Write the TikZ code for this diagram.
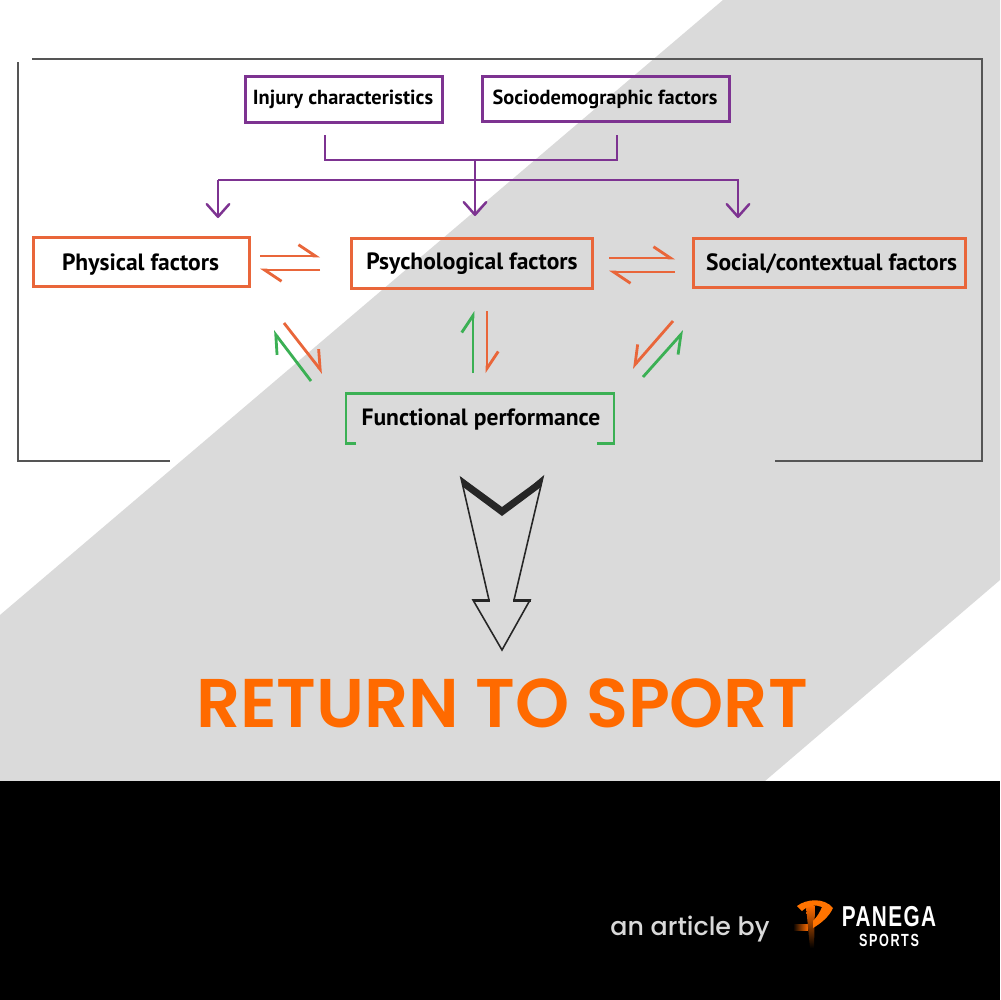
\documentclass[tikz,border=0pt]{standalone}
\usepackage{fontspec}
\setmainfont{PT Sans}
\newfontfamily\titlefont{Poppins SemiBold}
\newfontfamily\bylinefont{Poppins Medium}
\newfontfamily\logofont[FakeStretch=0.72,LetterSpace=9]{Liberation Sans}
\usetikzlibrary{arrows.meta}
\definecolor{bandgrey}{HTML}{DADADA}
\definecolor{boxorange}{HTML}{E9663A}
\definecolor{boxpurple}{HTML}{7D3391}
\definecolor{boxgreen}{HTML}{3BB054}
\definecolor{titleorange}{HTML}{FF6A00}
\definecolor{framegrey}{HTML}{555555}
\tikzstyle{label} = [font={\fontsize{6.7}{7}\selectfont\bfseries}, text=black, inner sep=0pt, text height=4.6pt, text depth=1.3pt]
\tikzstyle{smalllabel} = [label, font={\fontsize{5.8}{7}\selectfont\bfseries}]
\tikzstyle{frame} = [draw=framegrey, line width=0.5pt]
\tikzstyle{purplebox} = [draw=boxpurple, line width=0.85pt, minimum height=12.9pt, inner sep=0pt]
\tikzstyle{orangebox} = [draw=boxorange, line width=0.85pt, minimum height=14pt, inner sep=0pt]
\tikzstyle{purpleline} = [draw=boxpurple, line width=0.7pt]
\tikzstyle{purplearrow} = [purpleline, -{Straight Barb[length=3.6pt,width=6.4pt,round]}]
\tikzstyle{orangearrow} = [draw=boxorange, line width=0.8pt, -{Straight Barb[harpoon,length=4.8pt,width=6.4pt]}]
\tikzstyle{greenarrow} = [draw=boxgreen, line width=0.8pt, -{Straight Barb[harpoon,length=4.8pt,width=6.4pt]}]
\tikzstyle{orangeswap} = [draw=boxorange, line width=0.8pt, -{Straight Barb[harpoon,swap,length=4.8pt,width=6.4pt]}]
\tikzstyle{greenswap} = [draw=boxgreen, line width=0.8pt, -{Straight Barb[harpoon,swap,length=4.8pt,width=6.4pt]}]

\begin{document}
\begin{tikzpicture}[x=0.1mm,y=-0.1mm]
    \useasboundingbox (0,0) rectangle (1000,1000);
    \fill[white] (0,0) rectangle (1000,1000);
    \fill[bandgrey] (723,0)--(1000,0)--(1000,580)--(765,781)--(0,781)--(0,615)--cycle;
    \fill[black] (0,781) rectangle (1000,1000);
    % outer frame
    \draw[frame] (32,59)--(982,59)--(982,461)--(775,461);
    \draw[frame] (18,62)--(18,461)--(170,461);
    % boxes
    \node[purplebox,minimum width=198*0.2845pt](injury) at (344,99.5){};
    \node[purplebox,minimum width=248*0.2845pt](socio) at (606,99){};
    \node[orangebox,minimum width=217*0.2845pt](physical) at (141.5,262){};
    \node[orangebox,minimum width=242*0.2845pt](psycho) at (472,263.5){};
    \node[orangebox,minimum width=273*0.2845pt](social) at (829.5,263){};
    \node[smalllabel] at (343,99) {Injury characteristics};
    \node[smalllabel] at (605,99) {Sociodemographic factors};
    \node[label] at (140.5,265) {Physical factors};
    \node[label] at (472,264) {Psychological factors};
    \node[label] at (831.5,265) {Social/contextual factors};
    \node[label](functional) at (481,420){Functional performance};
    \draw[draw=boxgreen,line width=0.85pt] (356,443)--(346,443)--(346,393)--(614,393)--(614,443)--(597,443);
    % purple connectors
    \coordinate (injurydrop) at (325,135);
    \coordinate (sociodrop) at (617,135);
    \coordinate (joint) at (475,160);
    \coordinate (psychotip) at (475,216);
    \coordinate (physicaltip) at (218,218);
    \coordinate (socialtip) at (738,218);
    \draw[purpleline] (injurydrop)--(325,160)--(617,160)--(sociodrop);
    \draw[purplearrow] (joint)--(psychotip);
    \draw[purplearrow] (218,180)--(physicaltip);
    \draw[purplearrow] (218,180)--(738,180)--(socialtip);
    % double arrows
    \coordinate (a1) at (260,256); \coordinate (a2) at (320,256);
    \coordinate (b1) at (320,270); \coordinate (b2) at (260,270);
    \coordinate (c1) at (609,258); \coordinate (c2) at (675,258);
    \coordinate (d1) at (675,272); \coordinate (d2) at (609,272);
    \draw[orangearrow] (a1)--(a2);
    \draw[orangearrow] (b1)--(b2);
    \draw[orangearrow] (c1)--(c2);
    \draw[orangearrow] (d1)--(d2);
    \coordinate (e1) at (311,381); \coordinate (e2) at (273,331);
    \coordinate (f1) at (284,323); \coordinate (f2) at (323,373);
    \coordinate (g1) at (473,373); \coordinate (g2) at (473,311);
    \coordinate (h1) at (487,311); \coordinate (h2) at (487,373);
    \coordinate (i1) at (673,321); \coordinate (i2) at (632,368);
    \coordinate (j1) at (643,377); \coordinate (j2) at (684,331);
    \draw[greenarrow] (e1)--(e2);
    \draw[orangearrow] (f1)--(f2);
    \draw[greenarrow] (g1)--(g2);
    \draw[orangearrow] (h1)--(h2);
    \draw[orangeswap] (i1)--(i2);
    \draw[greenswap] (j1)--(j2);
    % big arrow
    \draw[draw=black!85,line width=0.45pt,line join=miter] (461,478)--(502,512)--(543,477)--(514,600)--(530,600)--(502,650)--(473,600)--(489,600)--cycle;
    \fill[black!85] (461,477)--(502,507)--(543,477)--(541,487)--(502,516)--(463,487)--cycle;
    \fill[black!85] (473,598.5) rectangle (490,601.5);
    \fill[black!85] (513,598.5) rectangle (531,601.5);
    % title
    \node[font={\titlefont\fontsize{19.6}{24}\selectfont},text=titleorange,inner sep=0pt](title) at (502,703){RETURN TO SPORT};
    % footer
    \node[font={\bylinefont\fontsize{7.2}{9}\selectfont},text=black!15,inner sep=0pt](byline) at (690,929){an article by};
    \shade[left color=black,right color=orange!85!red] (793,924) rectangle (808,930);
    \shade[top color=orange!85!red,bottom color=black] (806,906)--(815,906)--(814,948)--(810,948)--cycle;
    \fill[orange!90!red] (797,906)..controls (806,899) and (824,897) ..(833,908)..controls (829,917) and (820,924) ..(813,928)--(813,921)..controls (817,917) and (820,912) ..(822,907)..controls (816,904) and (807,906) ..(802,911)--cycle;
    \node[font={\logofont\addfontfeature{LetterSpace=5}\fontsize{8.2}{9}\selectfont\bfseries},text=white,inner sep=0pt](panega) at (889,917){PANEGA};
    \node[font={\logofont\fontsize{5}{6}\selectfont\bfseries},text=white,inner sep=0pt](sports) at (889,940){SPORTS};
\end{tikzpicture}
\end{document}
